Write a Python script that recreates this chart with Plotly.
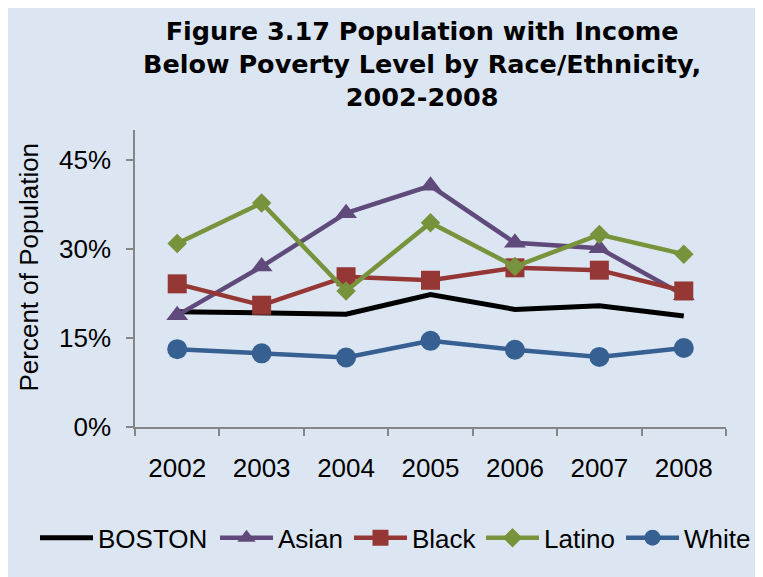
import plotly.graph_objects as go

years = ["2002", "2003", "2004", "2005", "2006", "2007", "2008"]
boston = [19.4, 19.1, 19.0, 22.3, 19.8, 20.4, 18.7]
asian = [18.8, 27.0, 36.0, 40.6, 31.0, 30.1, 22.2]
black = [24.1, 20.5, 25.3, 24.7, 26.8, 26.4, 22.9]
latino = [30.9, 37.7, 22.9, 34.4, 27.0, 32.4, 29.1]
white = [13.1, 12.4, 11.7, 14.5, 13.0, 11.8, 13.3]

series = [
    ("BOSTON", boston, "#000000", None, 0),
    ("Asian", asian, "#604A7B", "triangle-up", 19),
    ("Black", black, "#953735", "square", 19),
    ("Latino", latino, "#77933C", "diamond", 15),
    ("White", white, "#376092", "circle", 20),
]
# left edge (page px) of each legend entry's line sample
legend_starts = [40, 220, 354, 486, 626]

W, H = 755, 569
fig = go.Figure()
legend_layout = {}
for i, (name, vals, color, sym, msize) in enumerate(series):
    lg = "legend" if i == 0 else f"legend{i + 1}"
    if sym is None:
        fig.add_trace(go.Scatter(x=years, y=[v / 100 for v in vals], name=name, legend=lg,
                                 mode="lines", line=dict(color=color, width=5)))
    else:
        fig.add_trace(go.Scatter(x=years, y=[v / 100 for v in vals], name=name, legend=lg,
                                 mode="lines+markers",
                                 line=dict(color=color, width=4.5),
                                 marker=dict(symbol=sym, size=msize, color=color)))
    legend_layout[lg] = dict(
        orientation="h", xref="container", yref="container",
        x=(legend_starts[i] - 8 - 5) / W, xanchor="left", y=0.069, yanchor="middle",
        font=dict(size=26), bgcolor="rgba(0,0,0,0)", itemwidth=53,
    )

bg = "#DCE6F2"
axis_col = "#868686"
fig.update_layout(
    width=W, height=H,
    paper_bgcolor=bg, plot_bgcolor=bg,
    margin=dict(l=127, r=37, t=122, b=150, autoexpand=False),
    font=dict(family="Liberation Sans, Arial, sans-serif", size=26, color="#000000"),
    showlegend=True,
    xaxis=dict(
        type="category", range=[-0.5, 6.5], tickson="boundaries",
        showline=True, linecolor=axis_col, linewidth=1.5,
        ticks="outside", ticklen=7, tickcolor=axis_col, tickwidth=1.5,
        showgrid=False, zeroline=False, tickfont=dict(size=26),
        ticklabelstandoff=17,
    ),
    yaxis=dict(
        range=[0, 0.5], tickvals=[0, 0.15, 0.30, 0.45],
        ticktext=["0%", "15%", "30%", "45%"],
        showline=True, linecolor=axis_col, linewidth=1.5,
        ticks="outside", ticklen=7, tickcolor=axis_col, tickwidth=1.5,
        showgrid=False, zeroline=False, tickfont=dict(size=26),
        ticklabelstandoff=10,
    ),
    annotations=[
        dict(
            text="<b>Figure 3.17 Population with Income<br>Below Poverty Level by Race/Ethnicity,<br>2002-2008</b>",
            showarrow=False, xref="paper", yref="paper", x=0.4856, y=1.221,
            xanchor="center", yanchor="middle", align="center",
            font=dict(family="DejaVu Sans, sans-serif", size=25.5, color="#000000"),
        ),
        dict(
            text="Percent of Population", textangle=-90, showarrow=False,
            xref="paper", yref="paper", x=-0.181, y=0.537,
            xanchor="center", yanchor="middle", font=dict(size=26),
        ),
    ],
    **legend_layout,
)

fig.write_html("out.html")
